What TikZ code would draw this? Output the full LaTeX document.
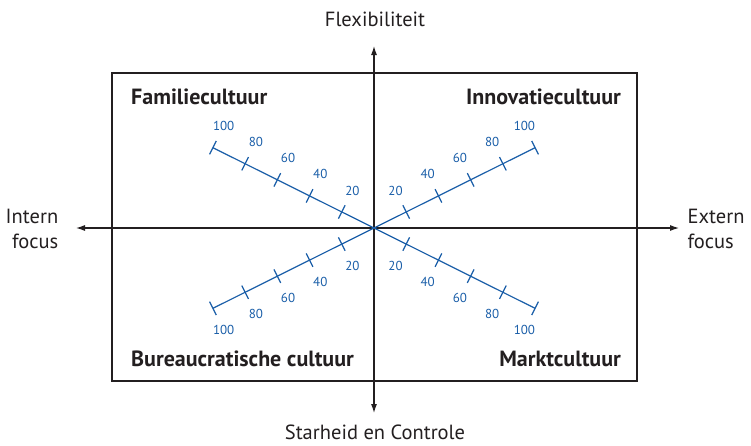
\documentclass[tikz,border=0pt]{standalone}
\usepackage{fontspec}
\setmainfont{PT Sans}
\usetikzlibrary{calc,arrows.meta}
\definecolor{armblue}{HTML}{1A5EA8}
\definecolor{ink}{HTML}{231F20}
\begin{document}
\begin{tikzpicture}[x=1pt,y=-1pt,
  axis/.style={draw=ink,line width=1.1pt,-{Latex[length=9pt,width=6pt]}},
  frame/.style={draw=ink,line width=1.1pt},
  arm/.style={draw=armblue,line width=1.2pt},
  tick/.style={draw=armblue,line width=1.2pt},
  num/.style={text=armblue,font=\fontsize{13}{15}\selectfont,inner sep=0pt},
  axlabel/.style={text=ink,font=\fontsize{20.5}{24.5}\selectfont,inner sep=0pt},
  quad/.style={text=ink,font=\fontsize{22}{25}\selectfont\bfseries,inner sep=0pt}]
\useasboundingbox (0,0) rectangle (751,445);
\coordinate (C) at (374,228);
\node[frame,minimum width=525pt,minimum height=308pt,inner sep=0pt] (box) at (374.5,227) {};
\coordinate (top) at (374,46);
\coordinate (bot) at (374,413);
\coordinate (lft) at (76,228);
\coordinate (rgt) at (679,228);
\draw[axis] (C) -- (top);
\draw[axis] (C) -- (bot);
\draw[axis] (C) -- (lft);
\draw[axis] (C) -- (rgt);
\node[axlabel] (flex) at (375,19) {Flexibiliteit};
\node[axlabel] (star) at (375,432) {Starheid en Controle};
\node[axlabel,align=right] (intern) at (32,229) {Intern\\focus};
\node[axlabel,align=left] (extern) at (716,229) {Extern\\focus};
\node[quad,anchor=west] (fam) at (131,97) {Familiecultuur};
\node[quad,anchor=east] (inno) at (621,97) {Innovatiecultuur};
\node[quad,anchor=west] (bur) at (131,359) {Bureaucratische cultuur};
\node[quad,anchor=east] (markt) at (621,359) {Marktcultuur};
% arms: angle, side of labels (+90 or -90)
\foreach \a/\s/\n in {206.5/90/ul, 333.5/-90/ur, 153.5/-90/ll, 26.5/90/lr}{
  \coordinate (\n end) at ($(C)+(\a:180)$);
  \draw[arm] (C) -- (\n end);
  \foreach \k in {1,...,5}{
    \coordinate (\n t\k) at ($(C)+(\a:36*\k)$);
    \draw[tick] ($(\n t\k)+(\a+90:7.5)$) -- ($(\n t\k)+(\a-90:7.5)$);
    \pgfmathtruncatemacro{\v}{20*\k}
    \node[num] (\n l\k) at ($(\n t\k)+(\a+\s:24)$) {\v};
  }
}
\end{tikzpicture}
\end{document}
